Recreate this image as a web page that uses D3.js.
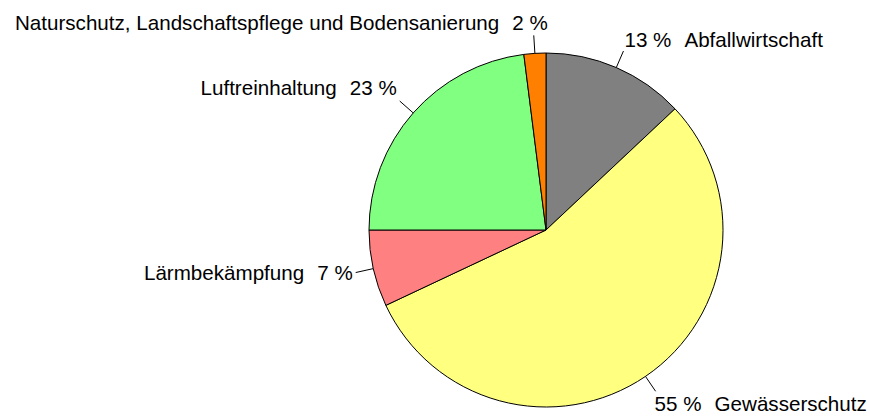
<!DOCTYPE html>
<html>
<head>
<meta charset="utf-8">
<script src="https://cdn.jsdelivr.net/npm/d3@7"></script>
<style>
  body { margin: 0; background: #fff; }
  text { font-family: "Liberation Sans", Arial, sans-serif; font-size: 20.6px; fill: #000; }
</style>
</head>
<body>
<div id="chart"></div>
<script>
var width = 870;
var height = 417;

// data
var categories = ["Abfallwirtschaft", "Gewässerschutz", "Lärmbekämpfung", "Luftreinhaltung", "Naturschutz, Landschaftspflege und Bodensanierung"];
var shares = [13, 55, 7, 23, 2];
var colors = ["#808080", "#ffff80", "#ff8080", "#80ff80", "#ff8000"];

// label placement relative to the end of each leader line
var labelLayout = [
    { anchor: "start", dx: 1, dy: -4.5, pctFirst: true },
    { anchor: "start", dx: -1, dy: 20, pctFirst: true },
    { anchor: "end", dx: -3, dy: 7, pctFirst: false },
    { anchor: "end", dx: -3, dy: -6, pctFirst: false },
    { anchor: "end", dx: 14, dy: -5, pctFirst: false }
];

var cx = 546, cy = 230, radius = 177, leaderEnd = 195, gap = 13;

var svg = d3.select("#chart")
    .append("svg")
    .attr("width", width)
    .attr("height", height);

var pie = d3.pie().sort(null).value(d => d.value);
var arc = d3.arc().innerRadius(0).outerRadius(radius);

var data = categories.map((c, i) => ({ name: c, value: shares[i], color: colors[i], layout: labelLayout[i] }));
var arcs = pie(data);

var g = svg.append("g").attr("transform", "translate(" + cx + "," + cy + ")");

g.selectAll("path")
    .data(arcs)
    .enter()
    .append("path")
    .attr("d", arc)
    .style("fill", d => d.data.color)
    .style("stroke", "#000")
    .style("stroke-width", 1);

function pointAt(a, r) {
    return [r * Math.sin(a), -r * Math.cos(a)];
}

// leader lines
g.selectAll("line.leader")
    .data(arcs)
    .enter()
    .append("line")
    .attr("class", "leader")
    .each(function (d) {
        var mid = (d.startAngle + d.endAngle) / 2;
        var p0 = pointAt(mid, radius), p1 = pointAt(mid, leaderEnd);
        d3.select(this)
            .attr("x1", p0[0]).attr("y1", p0[1])
            .attr("x2", p1[0]).attr("y2", p1[1]);
    })
    .style("stroke", "#000")
    .style("stroke-width", 1);

// labels
g.selectAll("text.label")
    .data(arcs)
    .enter()
    .append("text")
    .attr("class", "label")
    .each(function (d) {
        var mid = (d.startAngle + d.endAngle) / 2;
        var p = pointAt(mid, leaderEnd);
        var l = d.data.layout;
        var pct = d.data.value + " %";
        var parts = l.pctFirst ? [pct, d.data.name] : [d.data.name, pct];
        var t = d3.select(this)
            .attr("x", p[0] + l.dx)
            .attr("y", p[1] + l.dy)
            .attr("text-anchor", l.anchor);
        t.append("tspan").text(parts[0]);
        t.append("tspan").attr("dx", gap).text(parts[1]);
    });
</script>
</body>
</html>
